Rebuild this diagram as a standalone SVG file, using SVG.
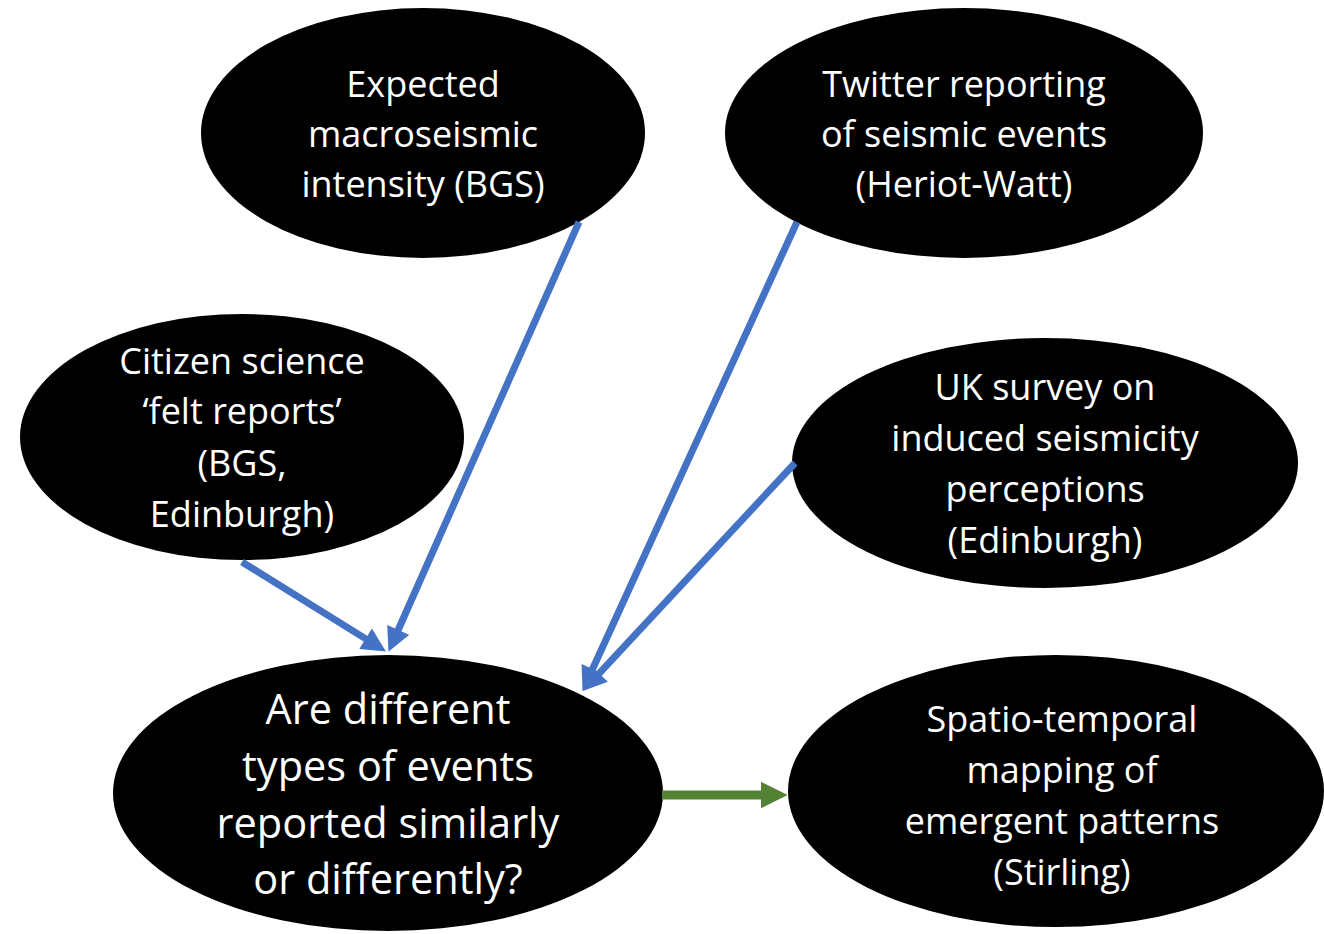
<svg xmlns="http://www.w3.org/2000/svg" width="1324" height="934" viewBox="0 0 1324 934">
<style>
.node ellipse{fill:#000}
.node text{fill:#fff;font-family:"Open Sans","Noto Sans",sans-serif;text-anchor:middle}
.s{font-size:36px}
.l{font-size:41.5px}
.blue{stroke:#4472C4;stroke-width:7;fill:none;marker-end:url(#ab)}
.green{stroke:#548235;stroke-width:9;fill:none;marker-end:url(#ag)}
</style>
<defs>
<marker id="ab" viewBox="0 0 10 10" refX="0.5" refY="5" markerUnits="userSpaceOnUse" markerWidth="26" markerHeight="24" orient="auto"><path d="M0,0 L10,5 L0,10 z" fill="#4472C4"/></marker>
<marker id="ag" viewBox="0 0 10 10" refX="0.5" refY="5" markerUnits="userSpaceOnUse" markerWidth="27" markerHeight="28" orient="auto"><path d="M0,0 L10,5 L0,10 z" fill="#548235"/></marker>
</defs>
<rect width="1324" height="934" fill="#fff"/>
<g id="n-expected" class="node">
<ellipse cx="423" cy="133" rx="222" ry="125"/>
<text class="s"><tspan x="423" y="97">Expected</tspan><tspan x="423" y="147">macroseismic</tspan><tspan x="423" y="197">intensity (BGS)</tspan></text>
</g>
<g id="n-twitter" class="node">
<ellipse cx="964" cy="133" rx="239" ry="125"/>
<text class="s"><tspan x="964" y="97">Twitter reporting</tspan><tspan x="964" y="147">of seismic events</tspan><tspan x="964" y="197">(Heriot-Watt)</tspan></text>
</g>
<g id="n-citizen" class="node">
<ellipse cx="242" cy="437" rx="222" ry="123"/>
<text class="s"><tspan x="242" y="374">Citizen science</tspan><tspan x="242" y="424">‘felt reports’</tspan><tspan x="242" y="476">(BGS,</tspan><tspan x="242" y="527">Edinburgh)</tspan></text>
</g>
<g id="n-uksurvey" class="node">
<ellipse cx="1045" cy="463" rx="253" ry="125"/>
<text class="s"><tspan x="1045" y="400">UK survey on</tspan><tspan x="1045" y="451">induced seismicity</tspan><tspan x="1045" y="502">perceptions</tspan><tspan x="1045" y="553">(Edinburgh)</tspan></text>
</g>
<g id="n-question" class="node">
<ellipse cx="388" cy="793" rx="275" ry="138"/>
<text class="l"><tspan x="388" y="724">Are different</tspan><tspan x="388" y="781">types of events</tspan><tspan x="388" y="838">reported similarly</tspan><tspan x="388" y="894">or differently?</tspan></text>
</g>
<g id="n-spatio" class="node">
<ellipse cx="1056" cy="791" rx="268" ry="136"/>
<text class="s"><tspan x="1062" y="732">Spatio-temporal</tspan><tspan x="1062" y="783">mapping of</tspan><tspan x="1062" y="834">emergent patterns</tspan><tspan x="1062" y="885">(Stirling)</tspan></text>
</g>
<g id="connectors">
<line class="blue" x1="579" y1="222" x2="397.7" y2="631"/>
<line class="blue" x1="242" y1="562" x2="366.6" y2="639.4"/>
<line class="blue" x1="797" y1="222" x2="592" y2="670.2"/>
<line class="blue" x1="795" y1="463" x2="598.3" y2="674.4"/>
<line class="green" x1="662" y1="795" x2="762" y2="795"/>
</g>
</svg>
